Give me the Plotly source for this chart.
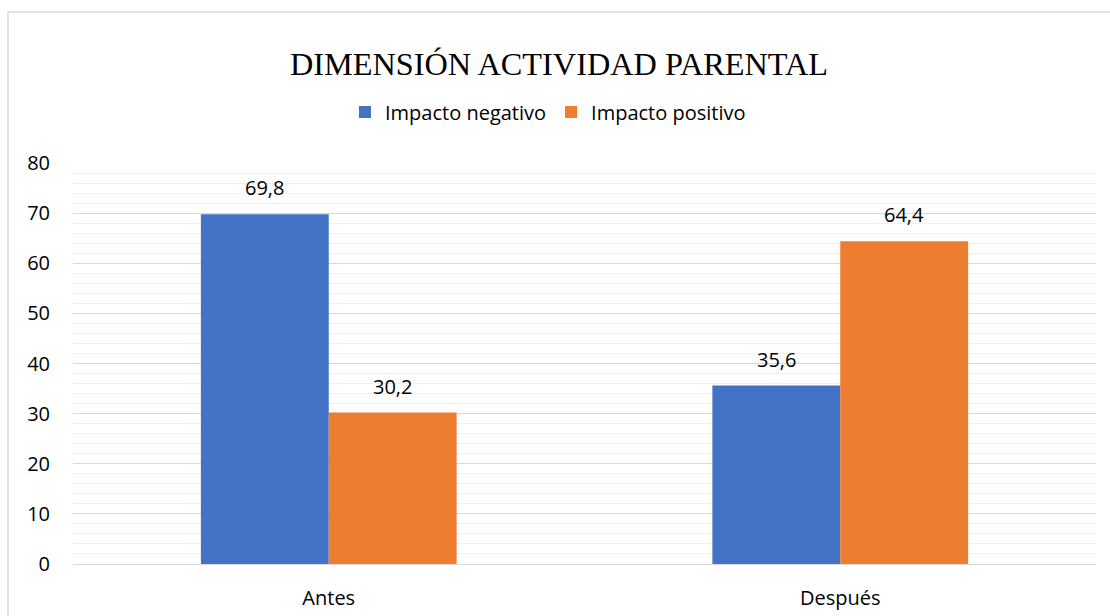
import plotly.graph_objects as go

categories = ["Antes", "Después"]
series_names = ["Impacto negativo", "Impacto positivo"]
impacto_negativo = [69.8, 35.6]
impacto_positivo = [30.2, 64.4]
colors = ["#4472C4", "#ED7D31"]
y_ticks = [0, 10, 20, 30, 40, 50, 60, 70, 80]

FONT = "Open Sans"
FS = 20
W, H = 1110, 616
ML, MR, MT, MB = 73, 14, 163, 52

fig = go.Figure()
series = [impacto_negativo, impacto_positivo]
for name, vals, col in zip(series_names, series, colors):
    fig.add_trace(go.Bar(
        name=name, x=categories, y=vals, marker=dict(color=col, line=dict(width=0)),
        hoverinfo="skip",
    ))

# data labels (annotations above each bar)
plot_w = W - ML - MR
band = plot_w / len(categories)
bar_w = band * 0.5 / len(series)
for si, vals in enumerate(series):
    off = (si - (len(series) - 1) / 2) * bar_w
    for c, v in zip(categories, vals):
        fig.add_annotation(
            x=c, y=v, xref="x", yref="y", text=f"{v:.1f}".replace(".", ","),
            showarrow=False, xshift=off, yanchor="bottom", yshift=11,
            font=dict(family=FONT, size=FS, color="#000000"),
        )

# outer chart border
fig.add_shape(
    type="rect", xref="paper", yref="paper",
    x0=(8 - ML) / plot_w, x1=(W + 5 - ML) / plot_w,
    y0=-(MB + 10) / (H - MT - MB), y1=(H - MB - 12) / (H - MT - MB),
    line=dict(color="#D9D9D9", width=1.5), layer="below",
)

fig.update_layout(
    width=W, height=H,
    margin=dict(l=ML, r=MR, t=MT, b=MB, autoexpand=False),
    paper_bgcolor="white", plot_bgcolor="white",
    barmode="group", bargap=0.5, bargroupgap=0,
    separators=",.",
    title=dict(
        text="DIMENSIÓN ACTIVIDAD PARENTAL",
        font=dict(family="Liberation Serif", size=32.3, color="#000000"),
        x=559 / W, xanchor="center", xref="container",
        y=1 - 64 / H, yanchor="middle", yref="container",
    ),
    legend=dict(
        orientation="h", x=(548 - ML) / plot_w, xanchor="center",
        y=(H - MB - 112) / (H - MT - MB), yanchor="middle",
        font=dict(family=FONT, size=FS, color="#000000"),
        bgcolor="rgba(0,0,0,0)", itemclick=False, itemdoubleclick=False,
        traceorder="normal",
    ),
    font=dict(family=FONT, size=FS, color="#000000"),
    showlegend=True,
)
fig.update_yaxes(
    range=[0, 80], tickvals=y_ticks, ticktext=[str(t) for t in y_ticks],
    showgrid=True, gridcolor="#D9D9D9", gridwidth=1.2,
    minor=dict(dtick=2, showgrid=True, gridcolor="#F0F0F0", gridwidth=1),
    zeroline=False, showline=False, ticks="",
    ticklabelstandoff=22, automargin=False,
    tickfont=dict(family=FONT, size=FS, color="#000000"),
    fixedrange=True,
)
fig.update_xaxes(
    showgrid=False, zeroline=False, showline=True, linecolor="#D9D9D9", linewidth=1.2,
    ticks="", ticklabelstandoff=16, automargin=False,
    tickfont=dict(family=FONT, size=FS, color="#000000"),
    fixedrange=True,
)

fig.write_html(
    "out.html",
    config={"displayModeBar": False},
    post_script="document.body.style.margin='0';document.body.style.padding='0';",
)
